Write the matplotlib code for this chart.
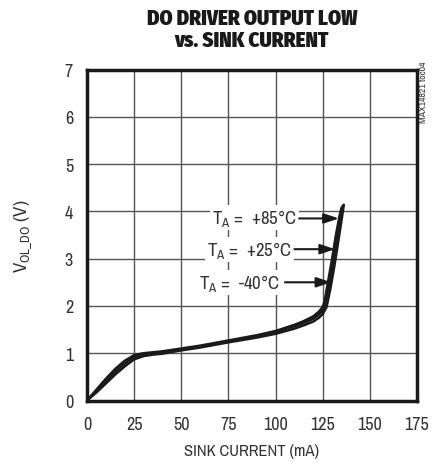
import matplotlib
matplotlib.use("Agg")
import matplotlib.pyplot as plt
import numpy as np

BODY = 'Archivo Narrow'
plt.rcParams['font.family'] = [BODY, 'PT Sans Narrow', 'DejaVu Sans']
plt.rcParams['mathtext.fontset'] = 'custom'
plt.rcParams['mathtext.rm'] = BODY
plt.rcParams['mathtext.it'] = BODY
plt.rcParams['mathtext.bf'] = BODY

# Data (sink current mA, VOL_DO V)
x_m40 = [0, 5, 10, 15, 20, 25, 30, 35, 40, 50, 60, 75, 90, 100, 110, 115, 120, 123, 125, 126, 128, 130, 132, 134, 135.0]
y_m40 = [0, 0.23, 0.46, 0.67, 0.84, 0.96, 1.0, 1.02, 1.04, 1.1, 1.16, 1.27, 1.38, 1.47, 1.6, 1.68, 1.78, 1.88, 1.98, 2.1, 2.55, 3.0, 3.5, 3.92, 4.08]
x_25 = [0, 5, 10, 15, 20, 25, 30, 35, 40, 50, 60, 75, 90, 100, 110, 115, 120, 123, 125, 126.5, 128.5, 130.5, 132.5, 134.5, 135.6]
y_25 = [0, 0.2, 0.41, 0.61, 0.78, 0.92, 0.97, 1.0, 1.02, 1.08, 1.14, 1.25, 1.36, 1.45, 1.57, 1.64, 1.73, 1.82, 1.91, 2.03, 2.45, 2.9, 3.4, 3.88, 4.12]
x_85 = [0, 5, 10, 15, 20, 25, 30, 35, 40, 50, 60, 75, 90, 100, 110, 115, 120, 123, 125, 127, 129, 131, 133, 135, 136.2]
y_85 = [0, 0.17, 0.36, 0.55, 0.72, 0.87, 0.94, 0.97, 0.99, 1.06, 1.12, 1.23, 1.33, 1.41, 1.52, 1.59, 1.67, 1.75, 1.83, 1.97, 2.35, 2.8, 3.3, 3.82, 4.14]

x_ticks = [0, 25, 50, 75, 100, 125, 150, 175]
y_ticks = [0, 1, 2, 3, 4, 5, 6, 7]

labels = [r'T$_\mathregular{A}$ =  +85°C', r'T$_\mathregular{A}$ =  +25°C', r'T$_\mathregular{A}$ =  -40°C']
label_pos = [(89, 3.87), (86, 3.2), (81, 2.5)]
arrow_start = [(112.5, 3.85), (110, 3.2), (105, 2.5)]
arrow_end = [(133.6, 3.85), (131.6, 3.2), (129.6, 2.5)]

fig = plt.figure(figsize=(4.33, 4.64), dpi=100)
ax = fig.add_axes([87/433, 1 - 401.5/464, 330/433, 331/464])

for xs, ys in [(x_m40, y_m40), (x_25, y_25), (x_85, y_85)]:
    ax.plot(xs, ys, color='#1a1a1a', lw=1.8, solid_capstyle='round', zorder=3)

ax.set_xlim(0, 175)
ax.set_ylim(0, 7)
ax.set_xticks(x_ticks)
ax.set_yticks(y_ticks)
ax.tick_params(length=0, labelsize=13, colors='#333333', pad=10)
ax.tick_params(axis='x', pad=11)
ax.grid(True, color='#555555', lw=1.0, zorder=1)
for s in ax.spines.values():
    s.set_linewidth(2.5)
    s.set_color('#1a1a1a')

for txt, (tx, ty), (sx, sy), (ex, ey) in zip(labels, label_pos, arrow_start, arrow_end):
    ax.text(tx, ty, txt, fontsize=13.5, color='#333333', ha='center', va='center',
            bbox=dict(facecolor='white', edgecolor='none', pad=1.5), zorder=4)
    ax.annotate('', xy=(ex, ey), xytext=(sx, sy),
                arrowprops=dict(arrowstyle='-|>,head_length=0.9,head_width=0.3',
                                color='#1a1a1a', lw=1.5, shrinkA=0, shrinkB=0), zorder=5)

ax.set_xlabel('SINK CURRENT (mA)', fontsize=12, color='#333333', labelpad=8)
ax.set_ylabel(r'V$_\mathregular{OL\_DO}$ (V)', fontsize=13.5, color='#333333', labelpad=22)

TITLE = ['Fira Sans Condensed', 'Barlow Condensed', 'DejaVu Sans']
fig.text(252/433, 1 - 18.5/464, 'DO DRIVER OUTPUT LOW', ha='center', va='center',
         fontsize=15, fontweight=900, family=TITLE, color='#1a1a1a')
fig.text(252/433, 1 - 40.5/464, 'vs. SINK CURRENT', ha='center', va='center',
         fontsize=15, fontweight=900, family=TITLE, color='#1a1a1a')
fig.text(424/433, 1 - 92/464, 'MAX14821 toc04', rotation=90, ha='center', va='center',
         fontsize=7, color='#333333')

fig.savefig('out.png', dpi=100)
